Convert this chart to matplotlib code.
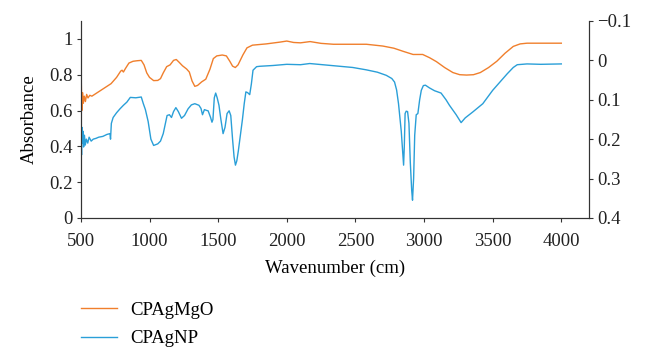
import numpy as np
import matplotlib
matplotlib.use("Agg")
import matplotlib.pyplot as plt

# CPAgMgO, read against the left axis
mgo_x = [500, 503, 507, 512, 518, 525, 533, 542, 552, 565, 580, 600, 630, 660, 690, 720,
         760, 790, 800, 810, 825, 850, 880, 910, 940, 960, 980, 1000, 1030, 1060, 1080,
         1100, 1125, 1150, 1175, 1195, 1215, 1240, 1270, 1290, 1310, 1330, 1350, 1380,
         1410, 1440, 1465, 1490, 1530, 1560, 1585, 1605, 1625, 1645, 1680, 1710, 1750,
         1850, 1950, 2000, 2050, 2100, 2170, 2250, 2340, 2580, 2700, 2780, 2850, 2920,
         2990, 3040, 3090, 3150, 3210, 3260, 3310, 3360, 3410, 3470, 3530, 3590, 3650,
         3700, 3750, 4000]
mgo_y = [0.50, 0.76, 0.60, 0.70, 0.64, 0.68, 0.65, 0.69, 0.67, 0.685, 0.68, 0.69, 0.705,
         0.72, 0.735, 0.75, 0.785, 0.82, 0.825, 0.815, 0.835, 0.865, 0.875, 0.878, 0.88,
         0.855, 0.81, 0.785, 0.767, 0.768, 0.778, 0.81, 0.845, 0.855, 0.88, 0.885, 0.87,
         0.85, 0.832, 0.815, 0.765, 0.735, 0.74, 0.76, 0.775, 0.83, 0.89, 0.905, 0.91,
         0.905, 0.875, 0.848, 0.84, 0.855, 0.91, 0.95, 0.965, 0.972, 0.982, 0.988, 0.98,
         0.978, 0.985, 0.975, 0.97, 0.97, 0.96, 0.948, 0.93, 0.913, 0.913, 0.895, 0.873,
         0.84, 0.812, 0.80, 0.798, 0.80, 0.812, 0.84, 0.875, 0.92, 0.958, 0.972, 0.976,
         0.976]

# CPAgNP, read against the right (inverted) axis
np_x = [500, 502, 505, 508, 512, 516, 520, 526, 532, 540, 550, 560, 575, 590, 610, 630,
        660, 690, 712, 716, 722, 735, 760, 785, 810, 835, 860, 900, 940, 955, 970, 990,
        1010, 1030, 1060, 1080, 1100, 1128, 1145, 1160, 1175, 1192, 1210, 1233, 1255,
        1281, 1305, 1330, 1360, 1375, 1386, 1400, 1415, 1427, 1445, 1455, 1462, 1472,
        1482, 1493, 1506, 1520, 1536, 1550, 1565, 1580, 1592, 1605, 1616, 1626, 1636,
        1647, 1662, 1677, 1690, 1702, 1715, 1730, 1742, 1754, 1780, 1803, 1900, 2000,
        2100, 2167, 2260, 2360, 2480, 2579, 2660, 2725, 2765, 2785, 2800, 2814, 2834,
        2846, 2851, 2856, 2862, 2870, 2880, 2890, 2900, 2910, 2916, 2924, 2932, 2943,
        2955, 2968, 2980, 2995, 3010, 3040, 3076, 3124, 3160, 3185, 3234, 3270, 3300,
        3355, 3428, 3500, 3560, 3606, 3650, 3679, 3750, 3850, 4000]
np_y = [0.27, 0.19, 0.24, 0.17, 0.21, 0.18, 0.22, 0.19, 0.215, 0.20, 0.21, 0.195, 0.205,
        0.20, 0.198, 0.195, 0.193, 0.188, 0.186, 0.20, 0.16, 0.145, 0.133, 0.123, 0.114,
        0.106, 0.094, 0.095, 0.093, 0.11, 0.125, 0.155, 0.2, 0.216, 0.212, 0.205, 0.186,
        0.14, 0.138, 0.145, 0.13, 0.12, 0.13, 0.147, 0.14, 0.123, 0.113, 0.110, 0.114,
        0.122, 0.138, 0.125, 0.127, 0.128, 0.145, 0.157, 0.15, 0.095, 0.083, 0.095, 0.114,
        0.15, 0.186, 0.17, 0.135, 0.128, 0.14, 0.2, 0.245, 0.266, 0.255, 0.23, 0.19, 0.15,
        0.11, 0.08, 0.082, 0.087, 0.06, 0.025, 0.016, 0.015, 0.013, 0.010, 0.011, 0.008,
        0.011, 0.014, 0.018, 0.024, 0.03, 0.038, 0.046, 0.055, 0.075, 0.11, 0.18, 0.24,
        0.266, 0.22, 0.135, 0.129, 0.13, 0.16, 0.26, 0.33, 0.355, 0.30, 0.19, 0.138,
        0.135, 0.10, 0.076, 0.064, 0.063, 0.07, 0.077, 0.083, 0.10, 0.114, 0.138, 0.158,
        0.146, 0.131, 0.110, 0.076, 0.052, 0.034, 0.018, 0.011, 0.009, 0.010, 0.009]

x_ticks = [500, 1000, 1500, 2000, 2500, 3000, 3500, 4000]
left_ticks = [0, 0.2, 0.4, 0.6, 0.8, 1]
left_labels = ["0", "0.2", "0.4", "0.6", "0.8", "1"]
right_ticks = [-0.1, 0, 0.1, 0.2, 0.3, 0.4]
right_labels = ["\u22120.1", "0", "0.1", "0.2", "0.3", "0.4"]

plt.rcParams["font.family"] = ["Liberation Serif", "DejaVu Serif"]
plt.rcParams["font.size"] = 13.5

orange = "#F07F2C"
blue = "#2A9FD8"
spine_col = "#333333"

fig = plt.figure(figsize=(6.47, 3.47), dpi=100)
ax = fig.add_axes([0.125, 0.372, 0.785, 0.5675])
ax2 = ax.twinx()

l1, = ax.plot(mgo_x, mgo_y, color=orange, lw=1.0, label="CPAgMgO")
l2, = ax2.plot(np_x, np_y, color=blue, lw=1.0, label="CPAgNP")

ax.set_xlim(500, 4200)
ax.set_ylim(0, 1.1)
ax2.set_ylim(0.4, -0.1)

ax.set_xticks(x_ticks)
ax.set_yticks(left_ticks)
ax.set_yticklabels(left_labels)
ax2.set_yticks(right_ticks)
ax2.set_yticklabels(right_labels)

for a in (ax, ax2):
    for s in a.spines.values():
        s.set_color(spine_col)
    a.spines["top"].set_visible(False)
    a.tick_params(colors=spine_col, labelcolor="#222222", length=3, width=0.8, pad=3)
ax.tick_params(axis="x", pad=8)

ax.set_xlabel("Wavenumber (cm)", labelpad=7)
ax.set_ylabel("Absorbance", labelpad=8)

fig.legend(handles=[l1, l2], loc="upper left", bbox_to_anchor=(0.125, 0.13),
           frameon=False, borderpad=0, borderaxespad=0, handlelength=1.9,
           handletextpad=0.75, labelspacing=0.6)

fig.savefig("out.png", dpi=100)
